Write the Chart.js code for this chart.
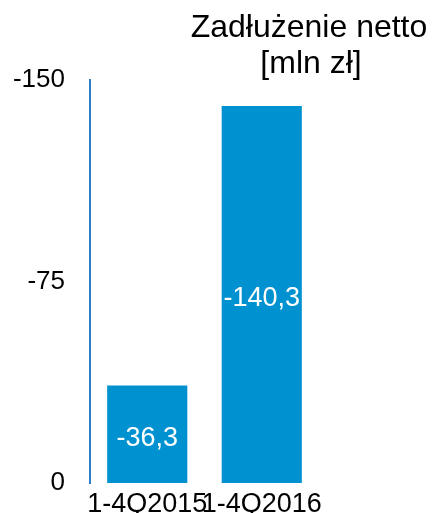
<!DOCTYPE html>
<html>
<head>
<meta charset="utf-8">
<script src="https://cdn.jsdelivr.net/npm/chart.js@4/dist/chart.umd.min.js"></script>
<style>
  html, body { margin: 0; padding: 0; background: #fff; }
  #wrap { width: 433px; height: 513px; }
</style>
</head>
<body>
<div id="wrap"><canvas id="myChart"></canvas></div>
<script>
var labels = ['1-4Q2015', '1-4Q2016'];
var debt = [-36.3, -140.3];
var titleLines = ['Zadłużenie netto', '[mln zł]'];

var FONT = '"Liberation Sans", Arial, sans-serif';

// values inside the bars, Polish decimal comma
var valueLabels = {
  id: 'valueLabels',
  afterDatasetsDraw: function(chart) {
    var ctx = chart.ctx;
    var meta = chart.getDatasetMeta(0);
    ctx.save();
    ctx.fillStyle = '#ffffff';
    ctx.font = '27px ' + FONT;
    ctx.textAlign = 'center';
    ctx.textBaseline = 'middle';
    meta.data.forEach(function(bar, i) {
      var txt = debt[i].toFixed(1).replace('.', ',');
      ctx.fillText(txt, bar.x, (bar.y + bar.base) / 2 + 4);
    });
    ctx.restore();
  }
};

// two-line heading in the top right
var heading = {
  id: 'heading',
  afterDraw: function(chart) {
    var ctx = chart.ctx;
    ctx.save();
    ctx.fillStyle = '#000000';
    ctx.font = '32px ' + FONT;
    ctx.textAlign = 'center';
    ctx.textBaseline = 'alphabetic';
    ctx.fillText(titleLines[0], 309, 37);
    ctx.fillText(titleLines[1], 311, 73);
    ctx.restore();
  }
};

var ctx = document.getElementById('myChart').getContext('2d');
var myChart = new Chart(ctx, {
  type: 'bar',
  data: {
    labels: labels,
    datasets: [{
      data: debt,
      backgroundColor: '#0091d0',
      borderWidth: 0,
      barPercentage: 0.7,
      categoryPercentage: 1
    }]
  },
  plugins: [valueLabels, heading],
  options: {
    responsive: true,
    maintainAspectRatio: false,
    animation: false,
    layout: { padding: { top: 80, right: 114, bottom: 0, left: 0 } },
    plugins: {
      legend: { display: false },
      tooltip: { enabled: false },
      title: { display: false }
    },
    scales: {
      x: {
        grid: { display: false, drawTicks: false },
        border: { display: false },
        ticks: {
          color: '#000',
          font: { family: FONT, size: 27, lineHeight: 1 },
          padding: 8,
          autoSkip: false,
          maxRotation: 0
        },
        afterFit: function(scale) { scale.height = 30; }
      },
      y: {
        reverse: true,
        min: -150,
        max: 0,
        grid: { display: false, drawTicks: false },
        border: { display: true, color: '#2f80ca', width: 2 },
        ticks: {
          stepSize: 75,
          color: '#000',
          font: { family: FONT, size: 26 },
          padding: 25
        },
        afterFit: function(scale) {
          // tick padding otherwise leaks into the vertical margins
          scale.width = 90;
          scale.paddingTop = 0;
          scale.paddingBottom = 0;
        }
      }
    }
  }
});
</script>
</body>
</html>
